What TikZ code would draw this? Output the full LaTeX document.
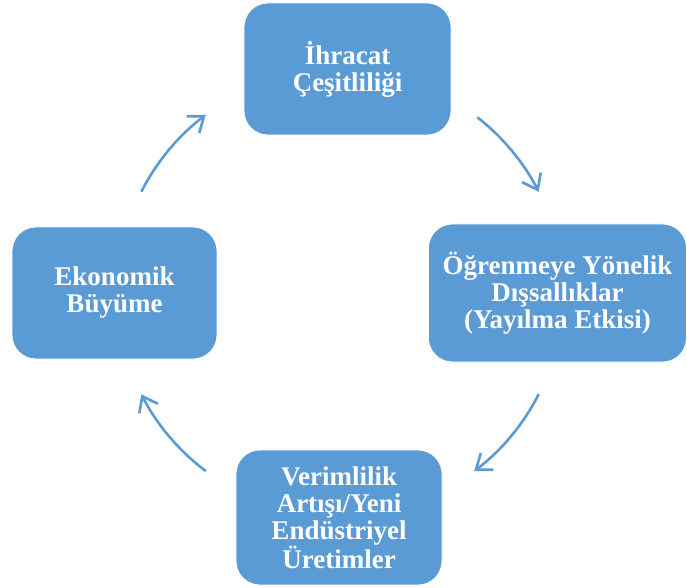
\documentclass[tikz,border=0pt]{standalone}
\usepackage{fontspec}
\setmainfont{Liberation Serif}
\usetikzlibrary{arrows.meta}
\definecolor{boxblue}{HTML}{5B9BD5}
\begin{document}
\begin{tikzpicture}[x=1pt,y=1pt,
  cyclebox/.style={fill=boxblue, draw=white, line width=0.8pt,
    rounded corners=24pt, align=center, inner sep=0pt,
    text=white, font=\bfseries\fontsize{27}{27}\selectfont},
  cyclearrow/.style={draw=boxblue, line width=2.6pt,
    -{Straight Barb[length=14pt,width=21pt,line width=2.6pt]}}]
  \useasboundingbox (0,0) rectangle (687,587);

  % the four stages of the cycle
  \node[cyclebox, minimum width=207pt, minimum height=132pt] (export) at (347.5,518)
    {İhracat\\Çeşitliliği};
  \node[cyclebox, minimum width=258pt, minimum height=138pt] (spill) at (557.5,294)
    {Öğrenmeye Yönelik\\Dışsallıklar\\(Yayılma Etkisi)};
  \node[cyclebox, minimum width=206pt, minimum height=135pt] (prod) at (339,69.5)
    {Verimlilik\\Artışı/Yeni\\Endüstriyel\\Üretimler};
  \node[cyclebox, minimum width=205pt, minimum height=132pt] (growth) at (114.5,294)
    {Ekonomik\\Büyüme};

  % arcs of one circle joining the stages clockwise
  \coordinate (hub) at (340,294);
  \path (hub) ++(52:223) coordinate (a1s);
  \path (hub) ++(-27:223) coordinate (a2s);
  \path (hub) ++(233:223) coordinate (a3s);
  \path (hub) ++(153:223) coordinate (a4s);
  \draw[cyclearrow] (a1s) arc[start angle=52, end angle=27, radius=223];
  \draw[cyclearrow] (a2s) arc[start angle=-27, end angle=-53, radius=223];
  \draw[cyclearrow] (a3s) arc[start angle=233, end angle=207, radius=223];
  \draw[cyclearrow] (a4s) arc[start angle=153, end angle=127, radius=223];
\end{tikzpicture}
\end{document}
